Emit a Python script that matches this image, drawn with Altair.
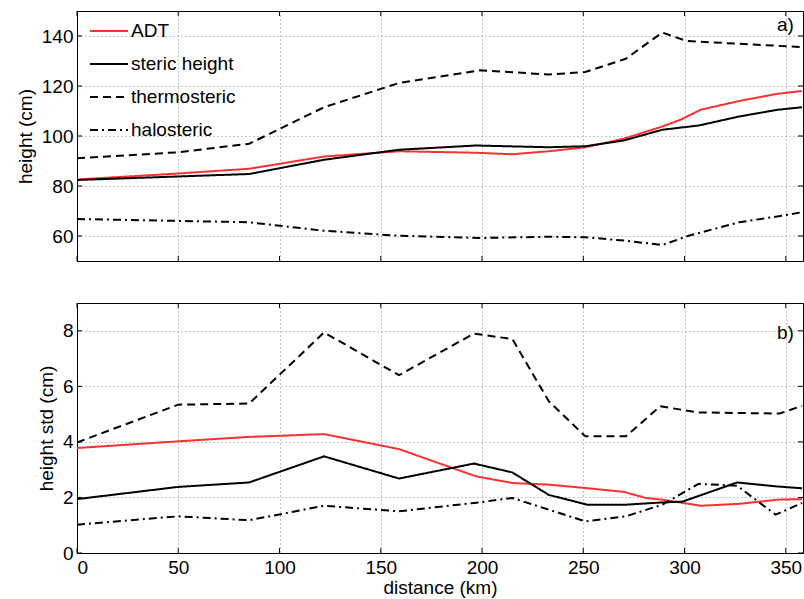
import altair as alt
import pandas as pd

FONT = "Liberation Sans"
series_names = ["ADT", "steric height", "thermosteric", "halosteric"]
series_colors = ["#ff3030", "black", "black", "black"]
series_dash = [[1, 0], [1, 0], [8, 5], [8, 4, 2, 4]]

# ---- panel a): height (cm)
adt_a_x = [0, 50, 85, 122, 159, 197, 215, 233, 251, 270, 289, 298, 308, 327, 346, 358]
adt_a_y = [82.6, 85.0, 86.9, 91.8, 93.9, 93.3, 92.7, 93.9, 95.5, 98.9, 103.8, 106.5, 110.5, 114.0, 116.9, 118.0]
ste_a_x = [0, 85, 122, 159, 197, 233, 251, 270, 289, 307, 327, 346, 358]
ste_a_y = [82.4, 84.8, 90.5, 94.5, 96.2, 95.5, 95.9, 98.2, 102.5, 104.2, 107.8, 110.5, 111.5]
thr_a_x = [0, 50, 85, 122, 159, 199, 233, 251, 271, 289, 301, 350, 358]
thr_a_y = [91.1, 93.5, 96.9, 111.5, 121.2, 126.3, 124.6, 125.6, 130.9, 141.4, 138.0, 135.9, 135.6]
hal_a_x = [0, 85, 122, 159, 199, 233, 251, 271, 289, 302, 327, 348, 358]
hal_a_y = [66.8, 65.5, 62.1, 60.1, 59.2, 59.7, 59.5, 58.1, 56.4, 60.1, 65.5, 68.1, 69.5]

# ---- panel b): height std (cm)
adt_b_x = [0, 50, 85, 122, 159, 197, 215, 233, 251, 270, 281, 289, 308, 327, 346, 358]
adt_b_y = [3.78, 4.02, 4.18, 4.28, 3.74, 2.76, 2.52, 2.46, 2.34, 2.20, 1.98, 1.92, 1.70, 1.77, 1.92, 1.94]
ste_b_x = [0, 50, 85, 122, 159, 196, 215, 233, 252, 271, 289, 299, 326, 345, 358]
ste_b_y = [1.94, 2.38, 2.54, 3.48, 2.68, 3.22, 2.90, 2.09, 1.74, 1.74, 1.82, 1.85, 2.54, 2.40, 2.33]
thr_b_x = [0, 50, 85, 122, 159, 196, 215, 233, 251, 271, 288, 307, 347, 358]
thr_b_y = [3.98, 5.34, 5.38, 7.94, 6.40, 7.90, 7.70, 5.46, 4.20, 4.20, 5.28, 5.06, 5.02, 5.30]
hal_b_x = [0, 50, 85, 122, 159, 196, 215, 233, 251, 271, 289, 307, 326, 345, 358]
hal_b_y = [1.02, 1.32, 1.18, 1.70, 1.50, 1.80, 1.98, 1.56, 1.14, 1.32, 1.74, 2.49, 2.42, 1.38, 1.80]

x_ticks = [0, 50, 100, 150, 200, 250, 300, 350]
ya_ticks = [60, 80, 100, 120, 140]
yb_ticks = [0, 2, 4, 6, 8]
x_domain = [0, 358.5]
ya_domain = [50, 150]
yb_domain = [0, 9]

panel_labels = ["a)", "b)"]
label_x = [354, 354]
label_y = [144.3, 7.92]


def frame(pairs):
    rows = []
    for name, xs, ys in pairs:
        for i, (xv, yv) in enumerate(zip(xs, ys)):
            rows.append({"series": name, "x": xv, "y": yv, "order": i})
    return pd.DataFrame(rows)


df_a = frame([("ADT", adt_a_x, adt_a_y), ("steric height", ste_a_x, ste_a_y),
              ("thermosteric", thr_a_x, thr_a_y), ("halosteric", hal_a_x, hal_a_y)])
df_b = frame([("ADT", adt_b_x, adt_b_y), ("steric height", ste_b_x, ste_b_y),
              ("thermosteric", thr_b_x, thr_b_y), ("halosteric", hal_b_x, hal_b_y)])

legend = alt.Legend(title=None, orient="none", legendX=12, legendY=0,
                    symbolType="stroke", symbolSize=1444, symbolStrokeWidth=2,
                    labelFontSize=19, labelFont=FONT, labelColor="black",
                    rowPadding=3, labelOffset=2, padding=0)

W, H = 726, 250
TICK = 5


def panel(df, ydom, yticks, ytitle, show_x_labels, with_legend, lab_i):
    xscale = alt.Scale(domain=x_domain, nice=False, zero=False)
    yscale = alt.Scale(domain=ydom, nice=False, zero=False)
    xaxis = alt.Axis(values=x_ticks, labels=show_x_labels,
                     title="distance (km)" if show_x_labels else None,
                     labelPadding=5, titlePadding=1)
    color = alt.Color("series:N", sort=series_names,
                      scale=alt.Scale(domain=series_names, range=series_colors),
                      legend=legend if with_legend else None)
    dash = alt.StrokeDash("series:N", sort=series_names,
                          scale=alt.Scale(domain=series_names, range=series_dash),
                          legend=legend if with_legend else None)
    lines = alt.Chart(df).mark_line(strokeWidth=2, clip=True).encode(
        x=alt.X("x:Q", scale=xscale, axis=xaxis),
        y=alt.Y("y:Q", scale=yscale,
                axis=alt.Axis(values=yticks, title=ytitle, labelPadding=4, titlePadding=6)),
        color=color,
        strokeDash=dash,
        order="order:Q",
    )
    # inward tick marks (MATLAB style) on all four sides
    xt = pd.DataFrame({"v": x_ticks})
    yt = pd.DataFrame({"v": yticks})
    xb = alt.Chart(xt).mark_rule(color="black", strokeWidth=1).encode(
        x=alt.X("v:Q", scale=xscale), y=alt.value(H), y2=alt.value(H - TICK))
    xtop = alt.Chart(xt).mark_rule(color="black", strokeWidth=1).encode(
        x=alt.X("v:Q", scale=xscale), y=alt.value(0), y2=alt.value(TICK))
    yl = alt.Chart(yt).mark_rule(color="black", strokeWidth=1).encode(
        y=alt.Y("v:Q", scale=yscale), x=alt.value(0), x2=alt.value(TICK))
    yr = alt.Chart(yt).mark_rule(color="black", strokeWidth=1).encode(
        y=alt.Y("v:Q", scale=yscale), x=alt.value(W - TICK), x2=alt.value(W))
    lab_df = pd.DataFrame({"t": [panel_labels[lab_i]], "x": [label_x[lab_i]], "y": [label_y[lab_i]]})
    txt = alt.Chart(lab_df).mark_text(align="right", baseline="middle", fontSize=19,
                                      font=FONT, color="black").encode(
        x="x:Q", y="y:Q", text="t:N")
    return alt.layer(lines, xb, xtop, yl, yr, txt).properties(width=W, height=H)


top = panel(df_a, ya_domain, ya_ticks, "height (cm)", False, True, 0)
bottom = panel(df_b, yb_domain, yb_ticks, "height std (cm)", True, False, 1)

chart = alt.vconcat(top, bottom, spacing=40).properties(
    padding={"left": 15, "top": 10, "right": 0, "bottom": 0},
    background="white",
).configure_view(stroke="black", strokeWidth=1).configure_axis(
    grid=True, gridDash=[1, 3], gridColor="#888888", gridWidth=1,
    domainColor="black", domainWidth=1, tickSize=0,
    labelFont=FONT, titleFont=FONT, labelFontSize=19, titleFontSize=19,
    titleFontWeight="normal", labelColor="black", titleColor="black",
)

chart.save("out.html", embed_options={"renderer": "svg", "actions": False})
